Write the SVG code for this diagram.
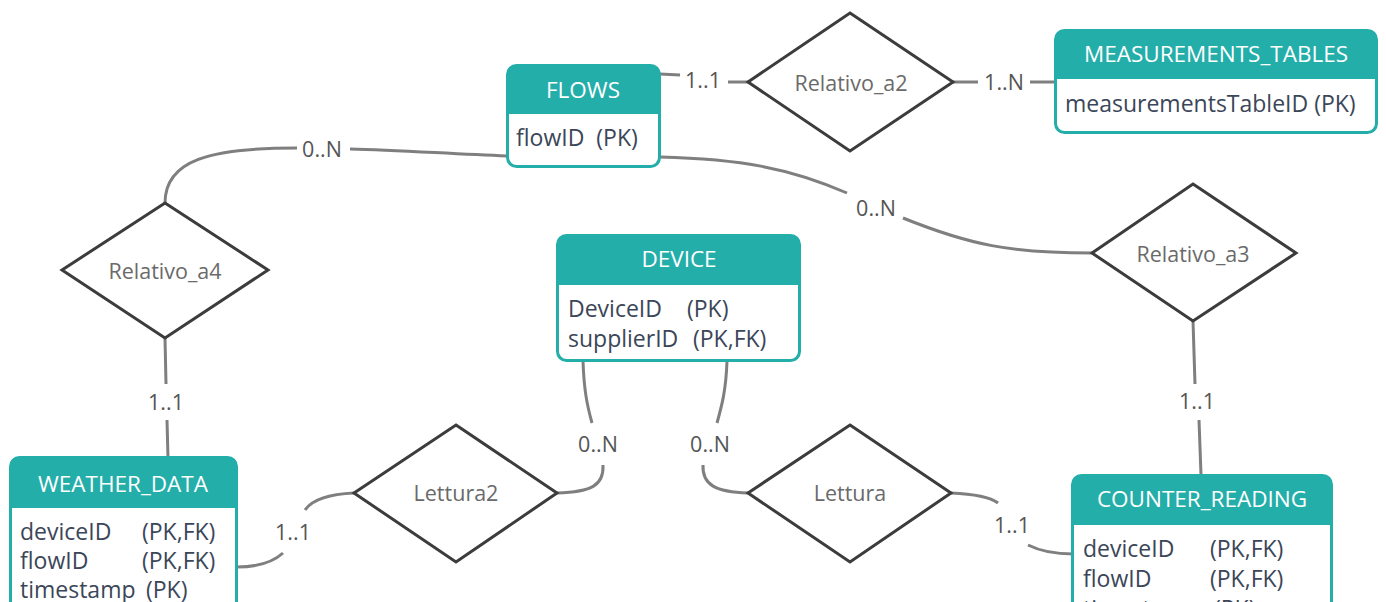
<svg xmlns="http://www.w3.org/2000/svg" width="1386" height="602" viewBox="0 0 1386 602">
<style>
.box{fill:#ffffff;stroke:#24aeaa;stroke-width:3}
.hdr{fill:#24aeaa}
.ttl{font-family:"Open Sans","Liberation Sans",sans-serif;font-size:22.5px;fill:#ffffff;text-anchor:middle}
.att{font-family:"Open Sans","Liberation Sans",sans-serif;font-size:23px;fill:#3b4658}
.dia{fill:#ffffff;stroke:#3c3c3c;stroke-width:3;stroke-linejoin:miter}
.rel{font-family:"Open Sans","Liberation Sans",sans-serif;font-size:21.5px;fill:#6a6a6a;text-anchor:middle}
.con{fill:none;stroke:#7f7f7f;stroke-width:3}
.card{font-family:"Open Sans","Liberation Sans",sans-serif;font-size:21.5px;fill:#555555;text-anchor:middle}
</style>
<rect width="1386" height="602" fill="#ffffff"/>
<g id="connectors">
<path class="con" d="M660,74 L680,75"/>
<path class="con" d="M728,82 L748,82"/>
<path class="con" d="M953,82 L978,82"/>
<path class="con" d="M1030,82 L1055,82"/>
<path class="con" d="M507,156 C450,154 400,150 350,149"/>
<path class="con" d="M297,148 C210,148 165,160 165,203"/>
<path class="con" d="M660,157 C740,159 790,168 847,193"/>
<path class="con" d="M903,218 C970,245 1010,253 1092,253"/>
<path class="con" d="M165,338 L166,384"/>
<path class="con" d="M167,420 L168,458"/>
<path class="con" d="M1193,321 L1195,384"/>
<path class="con" d="M1199,420 L1201,475"/>
<path class="con" d="M583,361 C584,390 587,405 592,423"/>
<path class="con" d="M603,465 C604,485 592,492 557,493"/>
<path class="con" d="M727,361 C726,390 722,405 717,423"/>
<path class="con" d="M703,465 C702,485 716,492 748,493"/>
<path class="con" d="M951,493 C975,494 990,497 998,503"/>
<path class="con" d="M1028,545 C1040,551 1055,554 1073,554"/>
<path class="con" d="M354,493 C330,494 312,500 305,510"/>
<path class="con" d="M283,553 C272,563 255,567 237,567"/>
</g>
<g id="labels">
<text class="card" x="703" y="88">1..1</text>
<text class="card" x="1004" y="90">1..N</text>
<text class="card" x="322" y="157">0..N</text>
<text class="card" x="876" y="216">0..N</text>
<text class="card" x="166" y="410">1..1</text>
<text class="card" x="1197" y="409">1..1</text>
<text class="card" x="598" y="452">0..N</text>
<text class="card" x="710" y="452">0..N</text>
<text class="card" x="1012" y="533">1..1</text>
<text class="card" x="293" y="540">1..1</text>
</g>
<g id="relativo_a2">
<polygon class="dia" points="850,13 953,82 850,151 748,82"/>
<text class="rel" x="851" y="91">Relativo_a2</text>
</g>
<g id="relativo_a4">
<polygon class="dia" points="165,203 268,270 165,338 62,270"/>
<text class="rel" x="165" y="279">Relativo_a4</text>
</g>
<g id="relativo_a3">
<polygon class="dia" points="1193,184 1296,253 1193,321 1092,253"/>
<text class="rel" x="1193" y="262">Relativo_a3</text>
</g>
<g id="lettura2">
<polygon class="dia" points="456,425 557,493 456,562 354,493"/>
<text class="rel" x="456" y="501">Lettura2</text>
</g>
<g id="lettura">
<polygon class="dia" points="850,425 951,493 850,562 748,493"/>
<text class="rel" x="850" y="501">Lettura</text>
</g>
<g id="flows">
<rect class="box" x="507.5" y="65.5" width="152" height="101" rx="9"/>
<path class="hdr" d="M507.5,114 V74.5 a9,9 0 0 1 9,-9 H650.5 a9,9 0 0 1 9,9 V114 Z"/>
<text class="ttl" x="583" y="98">FLOWS</text>
<text class="att" x="516" y="146" xml:space="preserve">flowID  (PK)</text>
</g>
<g id="measurements_tables">
<rect class="box" x="1055.5" y="30.5" width="321" height="102" rx="9"/>
<path class="hdr" d="M1055.5,79 V39.5 a9,9 0 0 1 9,-9 H1367.5 a9,9 0 0 1 9,9 V79 Z"/>
<text class="ttl" x="1216" y="62">MEASUREMENTS_TABLES</text>
<text class="att" x="1065" y="112">measurementsTableID (PK)</text>
</g>
<g id="device">
<rect class="box" x="557.5" y="235.5" width="242" height="125" rx="9"/>
<path class="hdr" d="M557.5,285 V244.5 a9,9 0 0 1 9,-9 H790.5 a9,9 0 0 1 9,9 V285 Z"/>
<text class="ttl" x="679" y="267">DEVICE</text>
<text class="att" x="568" y="317">DeviceID</text>
<text class="att" x="687" y="317">(PK)</text>
<text class="att" x="568" y="347">supplierID</text>
<text class="att" x="693" y="347">(PK,FK)</text>
</g>
<g id="weather_data">
<rect class="box" x="10.5" y="457.5" width="226" height="170" rx="9"/>
<path class="hdr" d="M10.5,508 V466.5 a9,9 0 0 1 9,-9 H227.5 a9,9 0 0 1 9,9 V508 Z"/>
<text class="ttl" x="123" y="492">WEATHER_DATA</text>
<text class="att" x="20" y="540">deviceID</text>
<text class="att" x="142" y="540">(PK,FK)</text>
<text class="att" x="20" y="569">flowID</text>
<text class="att" x="142" y="569">(PK,FK)</text>
<text class="att" x="20" y="598">timestamp</text>
<text class="att" x="146" y="598">(PK)</text>
</g>
<g id="counter_reading">
<rect class="box" x="1072.5" y="475.5" width="259" height="170" rx="9"/>
<path class="hdr" d="M1072.5,525 V484.5 a9,9 0 0 1 9,-9 H1322.5 a9,9 0 0 1 9,9 V525 Z"/>
<text class="ttl" x="1202" y="507">COUNTER_READING</text>
<text class="att" x="1083" y="557">deviceID</text>
<text class="att" x="1210" y="557">(PK,FK)</text>
<text class="att" x="1083" y="587">flowID</text>
<text class="att" x="1210" y="587">(PK,FK)</text>
<text class="att" x="1083" y="617">timestamp</text>
<text class="att" x="1214" y="617">(PK)</text>
</g>
</svg>
